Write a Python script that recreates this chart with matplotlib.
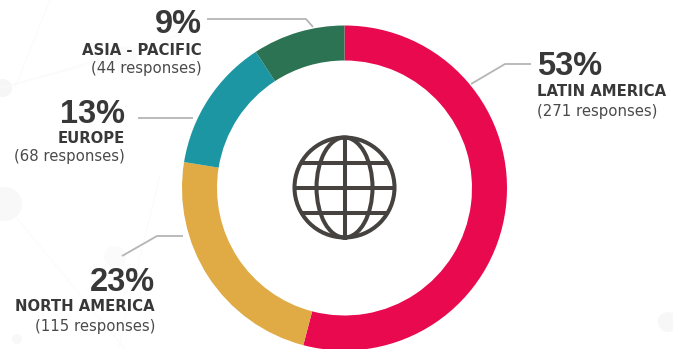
import numpy as np
import matplotlib.pyplot as plt
from matplotlib.patches import Circle, Ellipse

regions = ["LATIN AMERICA", "NORTH AMERICA", "EUROPE", "ASIA - PACIFIC"]
responses = [271, 115, 68, 44]
percents = [53, 23, 13, 9]
colors = ["#e8094f", "#e0aa45", "#1d96a3", "#2c7353"]

W, H = 673, 349
dark = "#383838"
line_grey = "#b5b5b5"
icon = "#45423f"

def flip(y):
    return H - y

fig = plt.figure(figsize=(W / 100, H / 100), dpi=100)
ax = fig.add_axes([0, 0, 1, 1])

# faint dots and threads behind the ring
for x, y, r, c in [(3, 88, 9, "#f6f6f6"), (5, 204, 17, "#f8f8f8"), (115, 257, 11, "#fbfbfb"),
                   (17, 339, 5, "#f8f8f8"), (668, 322, 10, "#f7f7f7"), (125, 58, 12, "#fbfbfb")]:
    ax.add_patch(Circle((x, flip(y)), r, color=c, lw=0))
for xs, ys in [([0, 125], [88, 55]), ([5, 125], [204, 349]), ([50, 15], [0, 88]),
               ([160, 118], [175, 349]), ([3, 180], [88, 35])]:
    ax.plot(xs, [flip(v) for v in ys], color="#fafafa", lw=0.6)

ax.pie(percents, colors=colors, center=(344.5, flip(188)), radius=162.5, startangle=90,
       counterclock=False, wedgeprops=dict(width=35, linewidth=0))

# leader lines
leaders = [
    ([471, 505, 531], [84, 64, 64]),
    ([122, 157, 183], [256, 236, 236]),
    ([138, 193], [118, 118]),
    ([207, 306, 313], [19, 19, 27]),
]
for xs, ys in leaders:
    ax.plot(xs, [flip(v) for v in ys], color=line_grey, lw=1.3, solid_capstyle="butt")

# globe icon in the middle
cx, cy, R = 344.5, flip(187.5), 50
lw = 2.9
ax.add_patch(Circle((cx, cy), R, fill=False, ec=icon, lw=lw))
ax.add_patch(Ellipse((cx, cy), 56, 2 * R, fill=False, ec=icon, lw=lw))
ax.plot([cx, cx], [cy - R, cy + R], color=icon, lw=lw)
for dy in [-25, 0, 25]:
    half = np.sqrt(R**2 - dy**2)
    ax.plot([cx - half, cx + half], [cy + dy, cy + dy], color=icon, lw=lw, solid_capstyle="butt")

# labels: x, alignment, baselines of the three rows
label_pos = [
    (537, "left", 75, 96, 116),
    (155, "right", 291, 311, 331),
    (125, "right", 123, 143, 161),
    (202, "right", 33, 55, 73),
]
for (x, ha, y1, y2, y3), name, n, pct in zip(label_pos, regions, responses, percents):
    ax.text(x, flip(y1), f"{pct}%", ha=ha, va="baseline", fontsize=23.5, fontweight="bold", color=dark, family="Liberation Sans")
    ax.text(x, flip(y2), name, ha=ha, va="baseline", fontsize=10.7, fontweight="bold", color=dark, family="DejaVu Sans")
    ax.text(x, flip(y3), f"({n} responses)", ha=ha, va="baseline", fontsize=10.7, color="#4a4a4a", family="DejaVu Sans")

ax.set_xlim(0, W)
ax.set_ylim(0, H)
ax.set_aspect("equal")
ax.axis("off")
fig.savefig("out.png", dpi=100)
